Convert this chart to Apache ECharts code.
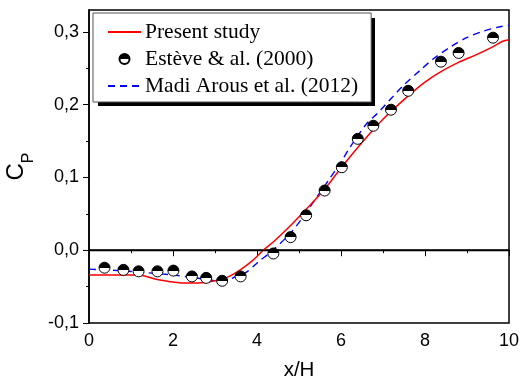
<!DOCTYPE html>
<html>
<head>
<meta charset="utf-8">
<script src="https://cdn.jsdelivr.net/npm/echarts@6/dist/echarts.min.js"></script>
<style>html,body{margin:0;padding:0;background:#fff}#c{width:520px;height:383px}</style>
</head>
<body>
<div id="c"></div>
<script>
// Present study (red solid line)
const presentX = [0, 0.5, 1.0, 1.3, 1.6, 1.9, 2.2, 2.6, 3.0, 3.3, 3.6, 3.9, 4.15, 4.4, 4.8, 5.1, 5.6, 6.0, 6.5, 7.0, 7.6, 8.0, 8.4, 8.8, 9.2, 9.6, 9.85, 10];
const presentY = [-0.034, -0.034, -0.034, -0.035, -0.040, -0.043, -0.045, -0.045, -0.042, -0.037, -0.027, -0.014, 0.000, 0.012, 0.034, 0.052, 0.083, 0.113, 0.148, 0.180, 0.212, 0.231, 0.246, 0.258, 0.268, 0.279, 0.287, 0.289];
// Estève & al. (2000) experimental points
const esteveX = [0.37, 0.82, 1.18, 1.63, 2.01, 2.45, 2.79, 3.17, 3.61, 4.39, 4.80, 5.17, 5.61, 6.02, 6.40, 6.77, 7.19, 7.60, 8.38, 8.80, 9.62];
const esteveY = [-0.024, -0.027, -0.029, -0.029, -0.028, -0.036, -0.038, -0.042, -0.036, -0.0045, 0.018, 0.048, 0.082, 0.114, 0.153, 0.171, 0.193, 0.219, 0.259, 0.271, 0.292];
// Madi Arous et al. (2012) (blue dashed line)
const madiX = [0, 0.7, 1.4, 2.0, 2.4, 2.8, 3.2, 3.5, 3.75, 4.07, 4.3, 4.79, 5.1, 5.7, 6.0, 6.2, 6.6, 6.9, 7.48, 7.88, 8.2, 8.6, 8.99, 9.39, 9.79, 10];
const madiY = [-0.026, -0.028, -0.031, -0.034, -0.037, -0.040, -0.043, -0.036, -0.030, -0.014, -0.004, 0.023, 0.046, 0.096, 0.121, 0.140, 0.173, 0.190, 0.226, 0.247, 0.263, 0.279, 0.292, 0.301, 0.307, 0.309];
const seriesNames = ['Present study', 'Estève & al. (2000)', 'Madi Arous et al. (2012)'];
const yTicks = [-0.1, 0, 0.1, 0.2, 0.3];
const yMinorTicks = [-0.05, 0.05, 0.15, 0.25];

const zip = (xs, ys) => xs.map((x, i) => [x, ys[i]]);
const halfFill = new echarts.graphic.LinearGradient(0, 0, 0, 1, [
  {offset: 0, color: '#000'}, {offset: 0.5, color: '#000'},
  {offset: 0.5, color: '#fff'}, {offset: 1, color: '#fff'}
]);
const sans = 'Liberation Sans';
const fmt = v => (Math.abs(v) < 1e-9 ? 0 : v).toFixed(1).replace('.', ',');
const noDot = {color: 'transparent', borderColor: 'transparent', borderWidth: 0, opacity: 0};

const chart = echarts.init(document.getElementById('c'), null, {renderer: 'canvas'});
chart.setOption({
  animation: false,
  backgroundColor: '#fff',
  grid: {left: 89, right: 11, top: 10, bottom: 60, outerBoundsMode: 'none', containLabel: false,
         show: true, borderColor: '#000', borderWidth: 1.5, backgroundColor: 'transparent'},
  graphic: [{
    type: 'rect', z: 10, silent: true,
    shape: {x: 98, y: 18, width: 277, height: 88},
    style: {fill: '#000'}
  }],
  legend: {
    z: 11,
    orient: 'vertical', left: 93, top: 13,
    padding: [8, 13, 5, 14], itemGap: 5, itemWidth: 33, itemHeight: 10,
    backgroundColor: '#fff', borderColor: '#555', borderWidth: 1,
    textStyle: {fontFamily: 'Liberation Serif', fontSize: 21.5, color: '#000', lineHeight: 21.5, width: 213, padding: [0, 0, 0, -1]},
    data: [
      {name: seriesNames[0], itemStyle: noDot},
      {name: seriesNames[1]},
      {name: seriesNames[2], itemStyle: noDot}
    ]
  },
  xAxis: {
    type: 'value', min: 0, max: 10, interval: 2,
    name: 'x/H', nameLocation: 'middle', nameGap: 37,
    nameTextStyle: {fontFamily: sans, fontSize: 20.5, color: '#000'},
    axisLine: {show: true, lineStyle: {color: '#000', width: 1.5}},
    axisTick: {show: true, length: 6, lineStyle: {color: '#000', width: 1}},
    minorTick: {show: true, splitNumber: 2, length: 3, lineStyle: {color: '#000', width: 1}},
    axisLabel: {fontFamily: sans, fontSize: 18, color: '#000', margin: 9},
    splitLine: {show: false}
  },
  yAxis: [{
    type: 'value', min: -0.1, max: 0.33,
    name: '{c|C}{p|P}', nameLocation: 'middle', nameRotate: 90, nameGap: 41,
    nameTextStyle: {color: '#000', rich: {
      c: {fontFamily: sans, fontSize: 24, color: '#000'},
      p: {fontFamily: sans, fontSize: 16, color: '#000', padding: [26, 0, 0, 0]}
    }},
    axisLine: {show: true, lineStyle: {color: '#000', width: 1.5}},
    axisTick: {show: true, length: 6, customValues: yTicks, lineStyle: {color: '#000', width: 1}},
    axisLabel: {fontFamily: sans, fontSize: 18, color: '#000', margin: 10, customValues: yTicks, formatter: fmt},
    splitLine: {show: false}
  }, {
    type: 'value', min: -0.1, max: 0.33, position: 'left',
    axisLine: {show: false},
    axisTick: {show: true, length: 3, customValues: yMinorTicks, lineStyle: {color: '#000', width: 1}},
    axisLabel: {show: false},
    splitLine: {show: false}
  }],
  series: [{
    name: seriesNames[0], type: 'line', data: zip(presentX, presentY),
    symbol: 'none', smooth: 0.3, lineStyle: {color: '#ff0000', width: 1.5}, itemStyle: {color: '#ff0000'},
    markLine: {silent: true, symbol: 'none', label: {show: false}, lineStyle: {color: '#000', width: 1.3, type: 'solid'}, data: [{yAxis: 0}]},
    z: 3
  }, {
    name: seriesNames[2], type: 'line', data: zip(madiX, madiY),
    symbol: 'none', smooth: 0.3, lineStyle: {color: '#0000ff', width: 1.4, type: [7, 5]}, itemStyle: {color: '#0000ff'},
    z: 2
  }, {
    name: seriesNames[1], type: 'scatter', data: zip(esteveX, esteveY),
    symbol: 'circle', symbolSize: 11,
    itemStyle: {color: halfFill, borderColor: '#000', borderWidth: 1, opacity: 1},
    z: 4
  }]
});
</script>
</body>
</html>
